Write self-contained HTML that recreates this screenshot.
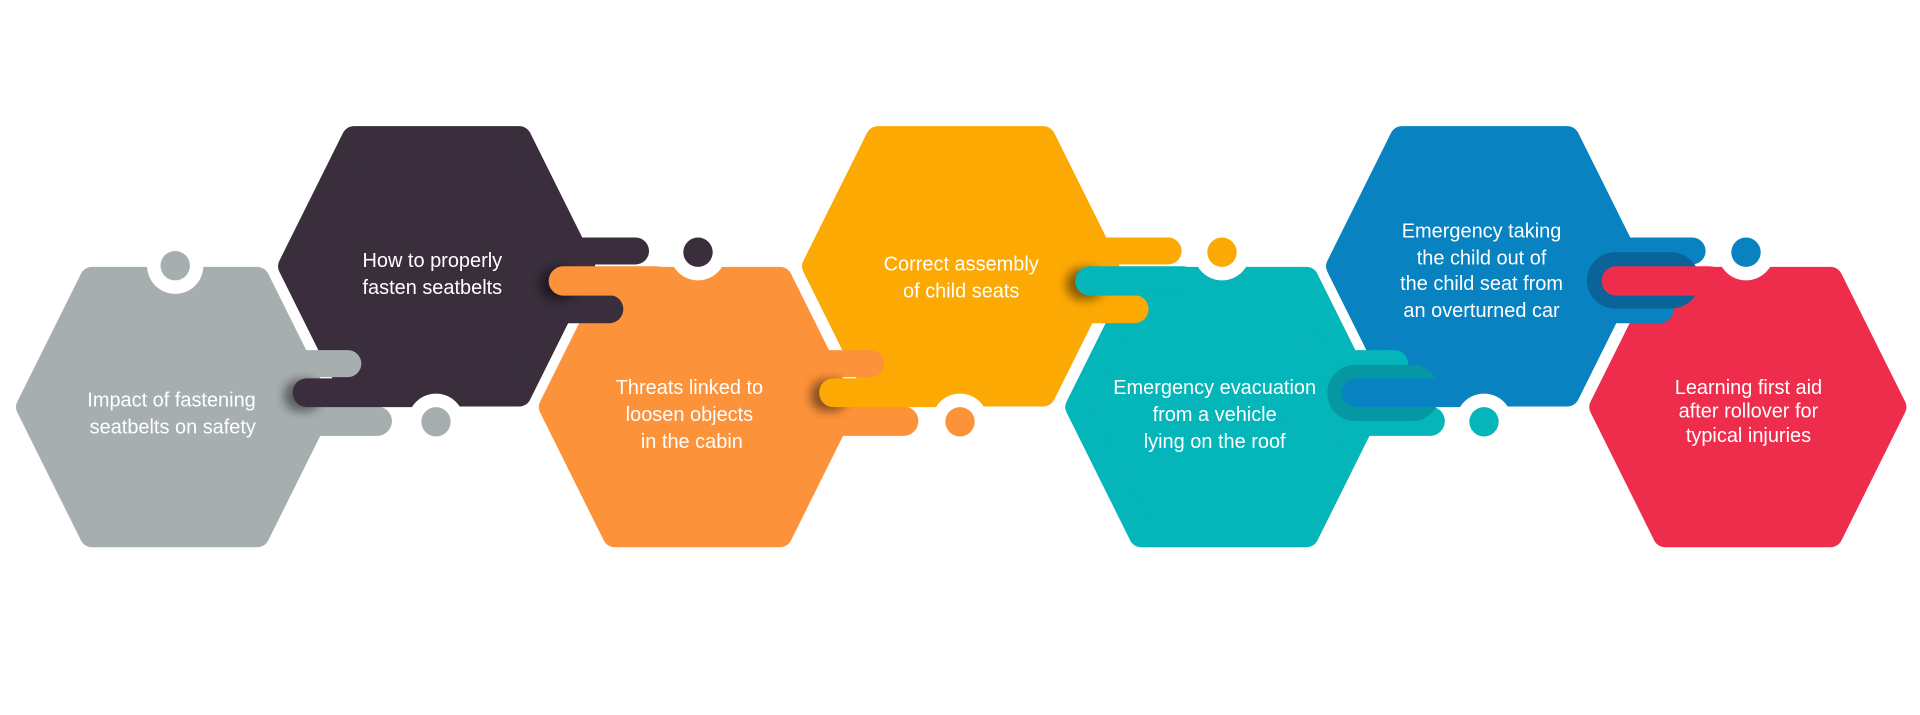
<!DOCTYPE html>
<html><head><meta charset="utf-8"><style>
html,body{margin:0;padding:0;background:#fff;}
svg{display:block;}
text{font-family:"Liberation Sans",Arial,sans-serif;font-size:16.3px;fill:#fff;text-anchor:middle;}
</style></head><body>
<svg width="1920" height="715" viewBox="0 0 1568 584" xmlns="http://www.w3.org/2000/svg">
<defs>
<filter id="bl" x="-100%" y="-100%" width="300%" height="300%"><feGaussianBlur stdDeviation="4"/></filter>
</defs>
<rect width="1568" height="584" fill="#fff"/>
<g stroke-linejoin="round">
<polygon points="23,332.5 75,228 210,228 262,332.5 210,437 75,437" fill="#a7aeaf" stroke="#fff" stroke-width="36"/>
<polygon points="23,332.5 75,228 210,228 262,332.5 210,437 75,437" fill="#a7aeaf" stroke="#a7aeaf" stroke-width="20"/>
<polygon points="237,217.5 289,113 424,113 476,217.5 424,322 289,322" fill="#3a2e3d" stroke="#fff" stroke-width="36"/>
<polygon points="237,217.5 289,113 424,113 476,217.5 424,322 289,322" fill="#3a2e3d" stroke="#3a2e3d" stroke-width="20"/>
<polygon points="450,332.5 502,228 637,228 689,332.5 637,437 502,437" fill="#fc923a" stroke="#fff" stroke-width="36"/>
<polygon points="450,332.5 502,228 637,228 689,332.5 637,437 502,437" fill="#fc923a" stroke="#fc923a" stroke-width="20"/>
<polygon points="665,217.5 717,113 852,113 904,217.5 852,322 717,322" fill="#fca903" stroke="#fff" stroke-width="36"/>
<polygon points="665,217.5 717,113 852,113 904,217.5 852,322 717,322" fill="#fca903" stroke="#fca903" stroke-width="20"/>
<polygon points="880,332.5 932,228 1067,228 1119,332.5 1067,437 932,437" fill="#04b5b9" stroke="#fff" stroke-width="36"/>
<polygon points="880,332.5 932,228 1067,228 1119,332.5 1067,437 932,437" fill="#04b5b9" stroke="#04b5b9" stroke-width="20"/>
<polygon points="1093,217.5 1145,113 1280,113 1332,217.5 1280,322 1145,322" fill="#0882c0" stroke="#fff" stroke-width="36"/>
<polygon points="1093,217.5 1145,113 1280,113 1332,217.5 1280,322 1145,322" fill="#0882c0" stroke="#0882c0" stroke-width="20"/>
<polygon points="1308,332.5 1360,228 1495,228 1547,332.5 1495,437 1360,437" fill="#ee2d4c" stroke="#fff" stroke-width="36"/>
<polygon points="1308,332.5 1360,228 1495,228 1547,332.5 1495,437 1360,437" fill="#ee2d4c" stroke="#ee2d4c" stroke-width="20"/>
</g>

<!-- gray->dark -->
<rect x="190" y="286" width="105" height="22" rx="11" fill="#a7aeaf"/>
<rect x="190" y="332" width="130" height="24" rx="12" fill="#a7aeaf"/>
<rect x="232" y="310" width="30" height="26" rx="12" fill="#000" opacity="0.45" filter="url(#bl)"/>
<rect x="239" y="309" width="120" height="23.5" rx="11.5" fill="#3a2e3d"/>

<!-- dark->orange -->
<rect x="420" y="194" width="110" height="22" rx="11" fill="#3a2e3d"/>
<rect x="420" y="241" width="89" height="23" rx="11.5" fill="#3a2e3d"/>
<rect x="441" y="219" width="30" height="26" rx="12" fill="#000" opacity="0.45" filter="url(#bl)"/>
<rect x="448" y="217.5" width="100" height="24" rx="12" fill="#fc923a"/>

<!-- orange->yellow -->
<rect x="620" y="286" width="102" height="22" rx="11" fill="#fc923a"/>
<rect x="620" y="332" width="130" height="24" rx="12" fill="#fc923a"/>
<rect x="662" y="310" width="30" height="26" rx="12" fill="#000" opacity="0.45" filter="url(#bl)"/>
<rect x="669" y="309" width="110" height="23.5" rx="11.5" fill="#fca903"/>

<!-- yellow->teal -->
<rect x="850" y="194" width="115" height="22" rx="11" fill="#fca903"/>
<rect x="850" y="241" width="88" height="23" rx="11.5" fill="#fca903"/>
<rect x="871" y="219" width="30" height="26" rx="12" fill="#000" opacity="0.45" filter="url(#bl)"/>
<rect x="878" y="217.5" width="100" height="24" rx="12" fill="#04b5b9"/>

<!-- teal->blue -->
<rect x="1050" y="286" width="100" height="22" rx="11" fill="#04b5b9"/>
<rect x="1050" y="332" width="130" height="24" rx="12" fill="#04b5b9"/>
<rect x="1084" y="298" width="92" height="46" rx="23" fill="#0598a2"/>
<rect x="1096" y="309" width="110" height="23.5" rx="11.5" fill="#0882c0"/>

<!-- blue->red -->
<rect x="1280" y="194" width="113" height="22" rx="11" fill="#0882c0"/>
<rect x="1280" y="241" width="87" height="23" rx="11.5" fill="#0882c0"/>
<rect x="1296" y="206" width="92" height="46" rx="23" fill="#0a6399"/>
<rect x="1308" y="217.5" width="100" height="24" rx="12" fill="#ee2d4c"/>

<circle cx="143" cy="217" r="23" fill="#fff"/><circle cx="143" cy="217" r="12" fill="#a7aeaf"/>
<circle cx="570" cy="206" r="23" fill="#fff"/><circle cx="570" cy="206" r="12" fill="#3a2e3d"/>
<circle cx="998" cy="206" r="23" fill="#fff"/><circle cx="998" cy="206" r="12" fill="#fca903"/>
<circle cx="1426" cy="206" r="23" fill="#fff"/><circle cx="1426" cy="206" r="12" fill="#0882c0"/>
<circle cx="356" cy="344.5" r="23" fill="#fff"/><circle cx="356" cy="344.5" r="12" fill="#a7aeaf"/>
<circle cx="784" cy="344.5" r="23" fill="#fff"/><circle cx="784" cy="344.5" r="12" fill="#fc923a"/>
<circle cx="1212" cy="344.5" r="23" fill="#fff"/><circle cx="1212" cy="344.5" r="12" fill="#04b5b9"/>

<text x="140" y="332">Impact of fastening</text>
<text x="141" y="354">seatbelts on safety</text>
<text x="353" y="218">How to properly</text>
<text x="353" y="240">fasten seatbelts</text>
<text x="563" y="322">Threats linked to</text>
<text x="563" y="344">loosen objects</text>
<text x="565" y="366">in the cabin</text>
<text x="785" y="221">Correct assembly</text>
<text x="785" y="243">of child seats</text>
<text x="992" y="322">Emergency evacuation</text>
<text x="992" y="344">from a vehicle</text>
<text x="992" y="366">lying on the roof</text>
<text x="1210" y="194">Emergency taking</text>
<text x="1210" y="216">the child out of</text>
<text x="1210" y="237">the child seat from</text>
<text x="1210" y="259">an overturned car</text>
<text x="1428" y="322">Learning first aid</text>
<text x="1428" y="341">after rollover for</text>
<text x="1428" y="361">typical injuries</text>
</svg>
</body></html>
